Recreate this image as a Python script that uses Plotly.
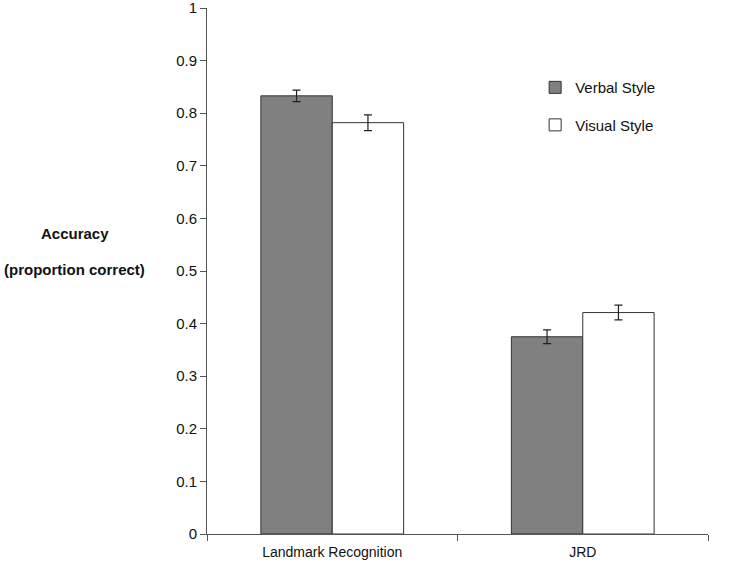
import plotly.graph_objects as go

categories = ["Landmark Recognition", "JRD"]
verbal = [0.833, 0.375]
verbal_err = [0.011, 0.013]
visual = [0.782, 0.421]
visual_err = [0.015, 0.014]
y_ticks = [0, 0.1, 0.2, 0.3, 0.4, 0.5, 0.6, 0.7, 0.8, 0.9, 1]
y_tick_labels = ["0", "0.1", "0.2", "0.3", "0.4", "0.5", "0.6", "0.7", "0.8", "0.9", "1"]

font = "Liberation Sans, Arial, sans-serif"

fig = go.Figure()
fig.add_trace(go.Bar(
    x=categories, y=verbal, name="Verbal Style", legendgroup="a",
    marker=dict(color="#808080", line=dict(color="#333333", width=1)),
    error_y=dict(type="data", array=verbal_err, color="#222222", thickness=1.2, width=4),
))
fig.add_trace(go.Bar(
    x=categories, y=visual, name="Visual Style", legendgroup="b",
    marker=dict(color="#ffffff", line=dict(color="#333333", width=1)),
    error_y=dict(type="data", array=visual_err, color="#222222", thickness=1.2, width=4),
))

fig.update_layout(
    width=756, height=566,
    margin=dict(l=207, r=48, t=8, b=32),
    paper_bgcolor="white", plot_bgcolor="white",
    font=dict(family=font, size=15, color="#111111"),
    barmode="group", bargap=0.43, bargroupgap=0,
    showlegend=True,
    legend=dict(x=0.655, y=0.88, xanchor="left", yanchor="top",
                bgcolor="rgba(0,0,0,0)", traceorder="grouped",
                tracegroupgap=15, font=dict(size=15)),
    xaxis=dict(showline=True, linecolor="#555555", linewidth=1,
               ticks="outside", tickson="boundaries", ticklen=6, tickcolor="#555555",
               showgrid=False, zeroline=False, automargin=False,
               tickfont=dict(size=14), ticklabelstandoff=5),
    yaxis=dict(range=[0, 1], tickvals=y_ticks, ticktext=y_tick_labels,
               showline=True, linecolor="#555555", linewidth=1,
               ticks="outside", ticklen=6, tickcolor="#555555",
               showgrid=False, zeroline=False, automargin=False,
               ticklabeloverflow="allow"),
)

fig.add_annotation(text="<b>Accuracy</b>", xref="paper", yref="paper",
                   x=-0.264, y=0.572, xanchor="center", yanchor="middle",
                   showarrow=False, font=dict(size=15, family=font))
fig.add_annotation(text="<b>(proportion correct)</b>", xref="paper", yref="paper",
                   x=-0.264, y=0.502, xanchor="center", yanchor="middle",
                   showarrow=False, font=dict(size=15, family=font))

fig.write_html("out.html", config={"displayModeBar": False},
               post_script="document.body.style.margin='0';")
